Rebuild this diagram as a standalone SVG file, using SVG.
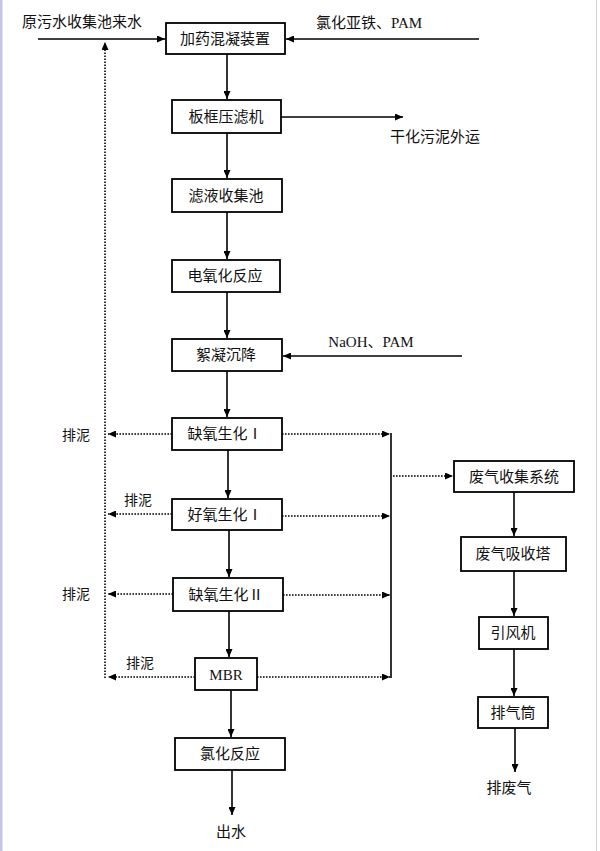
<svg xmlns="http://www.w3.org/2000/svg" width="600" height="851" viewBox="0 0 600 851">
<style>
.box{fill:#fff;stroke:#000;stroke-width:1.8}
.t{font-family:"Liberation Serif","Noto Sans CJK SC",serif;font-size:15px;fill:#111;text-anchor:middle;dominant-baseline:central}
.s{stroke:#000;stroke-width:1.6;fill:none}
.d{stroke:#000;stroke-width:1.6;fill:none;stroke-dasharray:1.6 1.4}
</style>
<defs>
<marker id="a" markerUnits="userSpaceOnUse" markerWidth="9" markerHeight="7" refX="8" refY="3.5" orient="auto"><path d="M0,0 L8,3.5 L0,7 z" fill="#000"/></marker>
</defs>
<rect x="0" y="0" width="600" height="851" fill="#fff"/>
<rect x="0" y="0" width="2.5" height="851" fill="#c4c4ec"/>
<line x1="596.5" y1="0" x2="596.5" y2="851" stroke="#d0d0d0" stroke-width="1"/>

<g id="connectors">
<line class="s" x1="38" y1="39" x2="165" y2="39" marker-end="url(#a)"/>
<line class="s" x1="479" y1="39" x2="286" y2="39" marker-end="url(#a)"/>
<line class="s" x1="227" y1="54" x2="227" y2="99" marker-end="url(#a)"/>
<line class="s" x1="281" y1="117" x2="403" y2="117" marker-end="url(#a)"/>
<line class="s" x1="227" y1="133" x2="227" y2="178" marker-end="url(#a)"/>
<line class="s" x1="227" y1="212" x2="227" y2="259" marker-end="url(#a)"/>
<line class="s" x1="227" y1="292" x2="227" y2="338" marker-end="url(#a)"/>
<line class="s" x1="462" y1="356" x2="283" y2="356" marker-end="url(#a)"/>
<line class="s" x1="227" y1="371" x2="227" y2="417" marker-end="url(#a)"/>
<line class="s" x1="228" y1="450" x2="228" y2="498" marker-end="url(#a)"/>
<line class="s" x1="229" y1="530" x2="229" y2="577" marker-end="url(#a)"/>
<line class="s" x1="229" y1="611" x2="229" y2="657" marker-end="url(#a)"/>
<line class="s" x1="231" y1="690" x2="231" y2="737" marker-end="url(#a)"/>
<line class="s" x1="232" y1="770" x2="232" y2="815" marker-end="url(#a)"/>
<!-- sludge return -->
<line class="d" x1="172" y1="434" x2="108" y2="434" marker-end="url(#a)"/>
<line class="d" x1="172" y1="514" x2="108" y2="514" marker-end="url(#a)"/>
<line class="d" x1="173" y1="594" x2="108" y2="594" marker-end="url(#a)"/>
<line class="d" x1="195" y1="677" x2="108" y2="677" marker-end="url(#a)"/>
<line class="d" x1="105" y1="678" x2="105" y2="42" marker-end="url(#a)"/>
<!-- gas collection -->
<line class="d" x1="282" y1="434" x2="390" y2="434" marker-end="url(#a)"/>
<line class="d" x1="282" y1="516" x2="390" y2="516" marker-end="url(#a)"/>
<line class="d" x1="283" y1="595" x2="390" y2="595" marker-end="url(#a)"/>
<line class="d" x1="257" y1="677" x2="390" y2="677" marker-end="url(#a)"/>
<line class="s" x1="391" y1="433" x2="391" y2="678"/>
<line class="d" x1="393" y1="476" x2="453" y2="476" marker-end="url(#a)"/>
<line class="s" x1="514" y1="492" x2="514" y2="536" marker-end="url(#a)"/>
<line class="s" x1="514" y1="571" x2="514" y2="616" marker-end="url(#a)"/>
<line class="s" x1="514" y1="649" x2="514" y2="696" marker-end="url(#a)"/>
<line class="s" x1="515" y1="728" x2="515" y2="772" marker-end="url(#a)"/>
</g>

<g id="labels">
<text class="t" x="82" y="22">原污水收集池来水</text>
<text class="t" x="369" y="23">氯化亚铁、PAM</text>
<text class="t" x="435" y="137">干化污泥外运</text>
<text class="t" x="371" y="342">NaOH、PAM</text>
<text class="t" x="76" y="435" style="font-size:14px">排泥</text>
<text class="t" x="138" y="500" style="font-size:14px">排泥</text>
<text class="t" x="76" y="594" style="font-size:14px">排泥</text>
<text class="t" x="140" y="663" style="font-size:14px">排泥</text>
<text class="t" x="509" y="788">排废气</text>
<text class="t" x="231" y="832">出水</text>
</g>

<g id="n1"><rect class="box" x="166" y="23" width="119" height="31"/><text class="t" x="225" y="39">加药混凝装置</text></g>
<g id="n2"><rect class="box" x="172" y="100" width="109" height="33"/><text class="t" x="226" y="117">板框压滤机</text></g>
<g id="n3"><rect class="box" x="172" y="179" width="110" height="33"/><text class="t" x="226" y="196">滤液收集池</text></g>
<g id="n4"><rect class="box" x="172" y="260" width="108" height="32"/><text class="t" x="225" y="276">电氧化反应</text></g>
<g id="n5"><rect class="box" x="172" y="339" width="110" height="32"/><text class="t" x="226" y="355">絮凝沉降</text></g>
<g id="n6"><rect class="box" x="172" y="418" width="110" height="32"/><text class="t" x="225" y="434">缺氧生化Ⅰ</text></g>
<g id="n7"><rect class="box" x="172" y="499" width="110" height="31"/><text class="t" x="225" y="515">好氧生化Ⅰ</text></g>
<g id="n8"><rect class="box" x="173" y="578" width="110" height="33"/><text class="t" x="226" y="595">缺氧生化Ⅱ</text></g>
<g id="n9"><rect class="box" x="195" y="658" width="62" height="32"/><text class="t" x="226" y="675">MBR</text></g>
<g id="n10"><rect class="box" x="175" y="738" width="110" height="32"/><text class="t" x="230" y="754">氯化反应</text></g>
<g id="g1"><rect class="box" x="454" y="461" width="120" height="31"/><text class="t" x="514" y="477">废气收集系统</text></g>
<g id="g2"><rect class="box" x="461" y="537" width="105" height="34"/><text class="t" x="513" y="554">废气吸收塔</text></g>
<g id="g3"><rect class="box" x="479" y="617" width="69" height="32"/><text class="t" x="513" y="633">引风机</text></g>
<g id="g4"><rect class="box" x="478" y="697" width="70" height="31"/><text class="t" x="513" y="713">排气筒</text></g>
</svg>
